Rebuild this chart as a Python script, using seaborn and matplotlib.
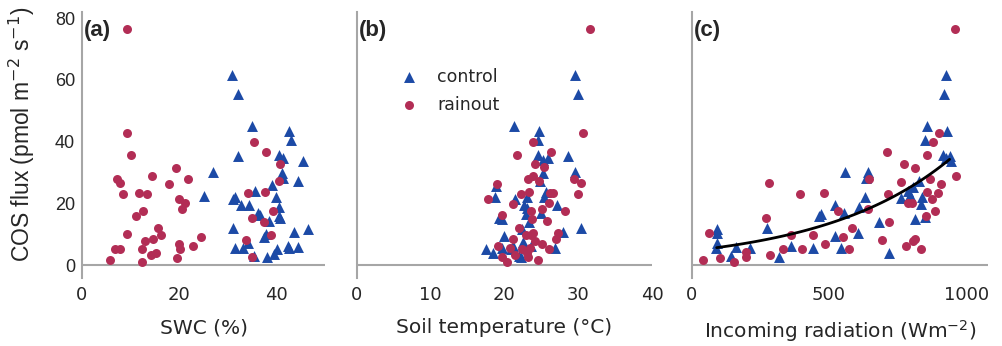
import numpy as np
import pandas as pd
import seaborn as sns
import matplotlib.pyplot as plt

# COS flux (pmol m-2 s-1), per panel and treatment
swc_rain = [9.3, 9.2, 10.1, 7.1, 7.8, 8.4, 11.7, 13.4, 14.5, 19.4, 18.0, 21.9, 19.9, 21.2, 20.5, 12.6,
            11.2, 9.3, 15.7, 16.3, 14.7, 13.0, 6.7, 7.9, 12.3, 5.8, 12.3, 14.2, 15.3, 19.9, 20.1, 19.5,
            22.8, 24.5, 35.3, 37.9, 40.7, 40.6, 34.2, 37.7, 39.4, 35.0, 37.5, 38.9, 33.7, 34.9]
swc_rain_flux = [76.4, 42.9, 35.6, 28.0, 26.6, 23.0, 23.5, 23.0, 28.9, 31.6, 26.2, 28.0, 21.3, 20.0, 18.1, 17.5,
                 16.0, 10.2, 12.1, 9.8, 8.3, 7.8, 5.2, 5.2, 5.1, 1.7, 1.0, 3.2, 4.0, 6.7, 5.1, 2.4,
                 6.1, 9.2, 39.9, 36.6, 32.8, 27.2, 23.4, 23.8, 17.6, 15.2, 14.0, 9.6, 8.2, 2.6]
swc_ctrl = [30.9, 32.1, 34.9, 42.6, 43.1, 32.2, 40.5, 41.4, 45.4, 41.1, 41.3, 44.4, 27.0, 25.0, 31.4, 31.1,
            35.5, 39.0, 40.0, 32.7, 34.4, 36.2, 36.6, 40.6, 40.5, 40.7, 38.4, 37.9, 37.4, 31.1, 43.7, 46.4,
            31.5, 33.2, 34.2, 35.3, 38.0, 39.5, 40.2, 42.3, 42.5, 44.4]
swc_ctrl_flux = [61.6, 55.4, 44.9, 43.4, 40.5, 35.4, 35.7, 34.8, 33.6, 29.8, 28.3, 27.2, 30.2, 22.3, 22.1, 21.4,
                 23.9, 25.8, 21.9, 19.3, 19.5, 16.9, 16.1, 18.9, 15.9, 15.1, 14.2, 9.9, 9.0, 12.1, 10.6, 11.6,
                 5.4, 5.4, 7.3, 2.9, 2.6, 3.6, 5.2, 6.3, 5.4, 5.8]

temp_rain = [31.6, 30.7, 23.9, 21.7, 26.3, 24.1, 25.4, 23.2, 23.9, 24.7, 29.4, 30.4, 19.0, 30.0, 22.3, 23.3,
             26.2, 26.6, 17.7, 21.1, 26.1, 28.2, 23.6, 25.1, 19.7, 23.7, 25.7, 21.9, 22.9, 23.6, 23.9, 27.2,
             27.0, 21.2, 24.2, 25.1, 26.1, 19.1, 20.7, 22.4, 23.5, 19.6, 21.4, 23.0, 20.4, 24.6, 23.2]
temp_rain_flux = [76.4, 42.9, 39.9, 35.6, 36.6, 32.8, 31.8, 28.0, 28.8, 27.2, 27.8, 26.6, 26.3, 23.0, 22.9, 23.7,
                  23.5, 23.5, 21.3, 19.7, 20.2, 17.5, 17.6, 18.1, 16.2, 15.0, 14.2, 12.1, 9.6, 9.8, 10.3, 10.3,
                  8.3, 8.4, 7.9, 6.8, 5.3, 6.1, 5.5, 5.3, 5.4, 2.5, 3.1, 3.8, 1.0, 1.7, 2.6]
temp_ctrl = [29.6, 30.0, 21.3, 24.7, 24.5, 24.6, 25.2, 25.9, 28.6, 29.5, 25.2, 24.8, 18.8, 18.7, 21.4, 23.1,
             25.6, 25.4, 22.7, 23.1, 27.1, 24.9, 22.9, 19.3, 19.7, 23.3, 30.4, 28.0, 22.4, 20.0, 22.5, 21.1,
             19.6, 17.5, 18.5, 26.9, 21.9, 22.3, 20.9, 23.6]
temp_ctrl_flux = [61.6, 55.4, 44.9, 43.4, 40.5, 35.7, 34.0, 34.8, 35.4, 30.2, 29.8, 27.2, 25.7, 21.9, 21.4, 22.1,
                  23.7, 22.0, 19.3, 18.6, 19.3, 16.9, 16.7, 15.3, 14.8, 14.0, 12.1, 10.6, 11.6, 9.5, 7.6, 6.3,
                  5.4, 5.3, 3.8, 5.4, 2.9, 2.7, 5.1, 6.3]

rad_rain = [960, 965, 903, 879, 856, 868, 907, 899, 856, 875, 887, 852, 773, 813, 764, 712, 644, 714, 641,
            789, 801, 719, 695, 779, 805, 813, 834, 483, 393, 281, 269, 531, 582, 550, 572, 487, 441, 402,
            360, 333, 284, 196, 197, 153, 103, 63, 41]
rad_rain_flux = [76.4, 28.9, 42.9, 39.9, 35.6, 28.0, 26.2, 23.4, 23.8, 21.3, 17.5, 16.0, 32.8, 31.6, 27.0, 36.6,
                 27.8, 23.0, 18.0, 20.2, 20.0, 14.1, 8.1, 6.1, 7.9, 8.5, 5.1, 23.4, 22.9, 26.6, 15.1, 17.5,
                 12.1, 9.2, 5.3, 6.7, 9.7, 5.1, 9.6, 5.1, 3.1, 4.2, 2.5, 1.0, 2.4, 10.3, 1.7]
rad_ctrl = [926, 920, 858, 850, 930, 914, 926, 941, 944, 827, 805, 787, 795, 764, 841, 837, 851, 813, 684,
            720, 641, 635, 632, 611, 606, 560, 520, 556, 470, 465, 520, 544, 441, 362, 317, 274, 212, 160,
            142, 93, 92, 93, 87]
rad_ctrl_flux = [61.6, 55.4, 44.9, 40.5, 43.4, 35.7, 34.8, 35.4, 33.6, 27.2, 25.3, 24.0, 22.7, 21.6, 21.9, 19.7,
                 15.6, 14.9, 14.0, 3.8, 30.0, 28.3, 22.1, 18.9, 10.5, 30.0, 19.3, 16.9, 16.7, 15.9, 9.4, 5.4,
                 5.4, 6.3, 2.6, 12.1, 5.4, 5.8, 2.9, 11.6, 10.5, 7.3, 5.4]

fit_range = [90, 940]  # extent of the fitted curve in panel (c)

treatments = ['control', 'rainout']
palette = {'control': '#1c4aa6', 'rainout': '#b22d55'}
markers = {'control': '^', 'rainout': 'o'}
sizes = {'control': 62, 'rainout': 42}


def make_df(xc, yc, xr, yr):
    return pd.concat([
        pd.DataFrame({'x': xc, 'flux': yc, 'treatment': 'control'}),
        pd.DataFrame({'x': xr, 'flux': yr, 'treatment': 'rainout'}),
    ], ignore_index=True)


panels = [
    (make_df(swc_ctrl, swc_ctrl_flux, swc_rain, swc_rain_flux), 'SWC (%)', (0, 50), [0, 20, 40], '(a)'),
    (make_df(temp_ctrl, temp_ctrl_flux, temp_rain, temp_rain_flux), 'Soil temperature (°C)', (0, 40),
     [0, 10, 20, 30, 40], '(b)'),
    (make_df(rad_ctrl, rad_ctrl_flux, rad_rain, rad_rain_flux), 'Incoming radiation (Wm$^{-2}$)', (0, 1080),
     [0, 500, 1000], '(c)'),
]

sns.set_style('white')
plt.rcParams['font.family'] = ['DejaVu Sans']

fig = plt.figure(figsize=(10.03, 3.46), dpi=100)
lefts = [82, 357, 692]
rights = [325, 652, 988]
gray = '#a6a6a6'

axes = []
for i, (df, xlabel, xlim, xticks, tag) in enumerate(panels):
    ax = fig.add_axes([lefts[i] / 1003, 1 - 278 / 346, (rights[i] - lefts[i]) / 1003, 266 / 346])
    for t in treatments:
        sub = df[df['treatment'] == t]
        sns.scatterplot(data=sub, x='x', y='flux', color=palette[t], marker=markers[t], s=sizes[t],
                        linewidth=0, ax=ax, label=t if i == 1 else None, legend=False)
    ax.set_xlim(*xlim)
    ax.set_ylim(-4.2, 82)
    ax.set_xticks(xticks)
    ax.set_yticks([0, 20, 40, 60, 80])
    ax.axhline(0, color=gray, lw=1.5, zorder=0)
    for s in ['top', 'right', 'bottom']:
        ax.spines[s].set_visible(False)
    ax.spines['left'].set_color(gray)
    ax.spines['left'].set_linewidth(1.5)
    ax.tick_params(axis='x', length=0, pad=6, labelsize=13)
    ax.tick_params(axis='y', length=0, pad=5)
    if i == 0:
        for lab in ax.get_yticklabels():
            lab.set_family('Liberation Sans')
            lab.set_fontsize(13)
    else:
        ax.set_yticklabels([])
    ax.set_ylabel('')
    ax.set_xlabel(xlabel, fontsize=14.5, labelpad=10)
    ax.text(0.008, 0.93, tag, transform=ax.transAxes, fontsize=16, fontweight='bold',
            family='Liberation Sans', va='center', ha='left')
    axes.append(ax)

# exponential fit of COS flux against radiation, both treatments pooled
# (log-linear, partly weighted towards the larger fluxes)
dfc = panels[2][0]
coef = np.polyfit(dfc['x'], np.log(dfc['flux']), 1, w=dfc['flux'] ** 0.25)
xs = np.linspace(fit_range[0], fit_range[1], 100)
sns.lineplot(x=xs, y=np.exp(np.polyval(coef, xs)), color='black', lw=2, ax=axes[2])

leg = axes[1].legend(loc='upper left', bbox_to_anchor=(0.066, 0.85), frameon=False, fontsize=12.5,
                     handletextpad=0.6, labelspacing=0.6, markerscale=1.0)

fig.text(0.022, 1 - 134 / 346, 'COS flux (pmol m$^{-2}$ s$^{-1}$)', rotation=90, ha='center', va='center',
         fontsize=16.5, family='Liberation Sans')

fig.savefig('out.png', dpi=100)
